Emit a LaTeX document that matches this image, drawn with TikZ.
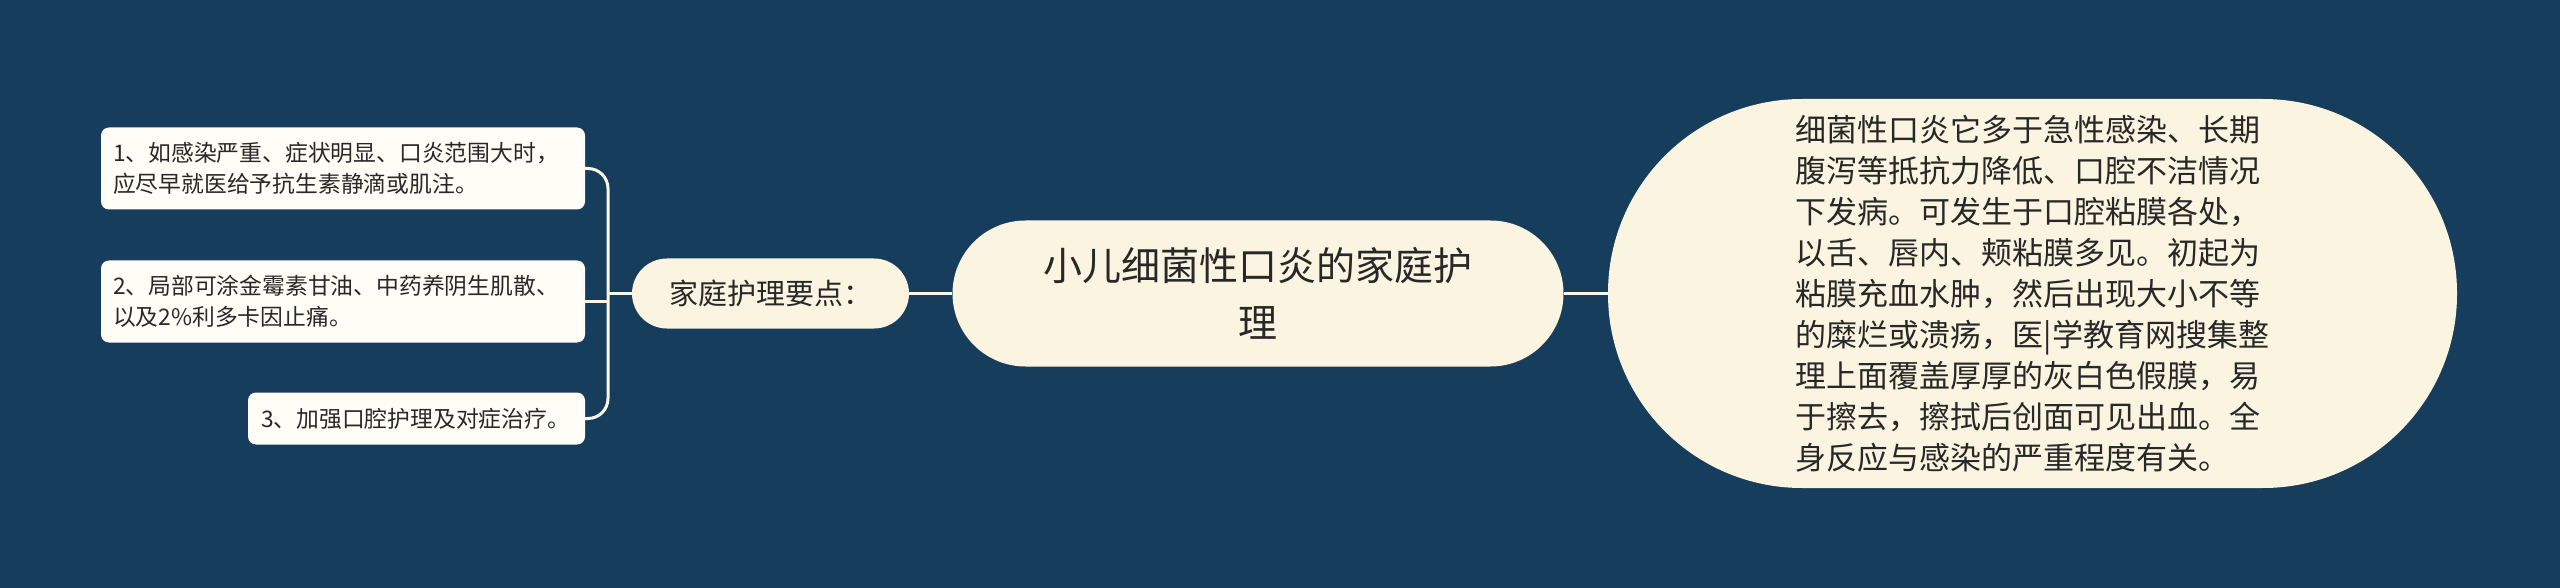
\documentclass[tikz,border=0pt]{standalone}
\usepackage{fontspec}
\setmainfont{Noto Sans CJK SC}
\definecolor{bg}{RGB}{23,61,92}
\definecolor{pillc}{RGB}{250,244,224}
\definecolor{leafc}{RGB}{255,253,246}
\definecolor{linec}{RGB}{250,246,232}
\definecolor{txt}{RGB}{40,40,40}
\begin{document}
\begin{tikzpicture}[x=1pt,y=-1pt,
  conn/.style={draw=linec, line width=3pt},
  pill/.style={fill=pillc, text=txt, inner sep=0pt, align=center},
  leaf/.style={fill=leafc, text=txt, inner sep=0pt, rounded corners=8pt, align=left}]
\fill[bg] (0,0) rectangle (2560,588);
\useasboundingbox (0,0) rectangle (2560,588);

\node[pill, minimum width=611pt, minimum height=146pt, rounded corners=73pt,
      font=\fontsize{39}{57}\selectfont] (c) at (1258,293.5)
      {小儿细菌性口炎的家庭护\\理};

\node[pill, minimum width=277pt, minimum height=70pt, rounded corners=35pt,
      font=\fontsize{29}{35}\selectfont] (k) at (770.5,293.5)
      {家庭护理要点：};

\node[pill, align=left, minimum width=849pt, minimum height=389pt, rounded corners=194pt,
      font=\fontsize{31}{41}\selectfont] (r) at (2032.5,293.5)
      {细菌性口炎它多于急性感染、长期\\
       腹泻等抵抗力降低、口腔不洁情况\\
       下发病。可发生于口腔粘膜各处，\\
       以舌、唇内、颊粘膜多见。初起为\\
       粘膜充血水肿，然后出现大小不等\\
       的糜烂或溃疡，医|学教育网搜集整\\
       理上面覆盖厚厚的灰白色假膜，易\\
       于擦去，擦拭后创面可见出血。全\\
       身反应与感染的严重程度有关。};

\node[leaf, minimum width=484pt, minimum height=82pt, text width=460pt,
      font=\fontsize{22.8}{31}\selectfont] (b1) at (343,168.5)
      {1、如感染严重、症状明显、口炎范围大时，\\应尽早就医给予抗生素静滴或肌注。};
\node[leaf, minimum width=484pt, minimum height=82pt, text width=460pt,
      font=\fontsize{22.8}{31}\selectfont] (b2) at (343,301.5)
      {2、局部可涂金霉素甘油、中药养阴生肌散、\\以及2\%利多卡因止痛。};
\node[leaf, minimum width=337pt, minimum height=52pt, text width=311pt,
      font=\fontsize{22.8}{31}\selectfont] (b3) at (416.5,418.5)
      {3、加强口腔护理及对症治疗。};

\coordinate (jt) at (608,293.5);
\draw[conn] (c.west) -- (k.east);
\draw[conn] (c.east) -- (r.west);
\draw[conn] (k.west) -- (jt);
\draw[conn, rounded corners=20pt] (b1.east) -| (jt) |- (b3.east);
\draw[conn] (b2.east) -- (b2.east -| jt);
\end{tikzpicture}
\end{document}
